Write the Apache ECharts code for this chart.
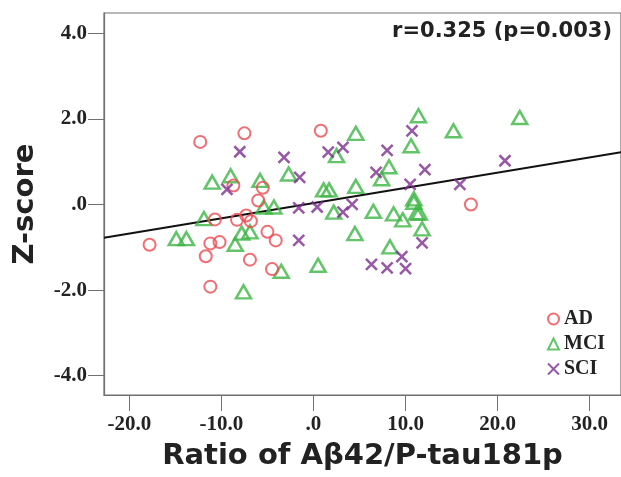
<!DOCTYPE html>
<html><head><meta charset="utf-8">
<script src="https://cdn.jsdelivr.net/npm/echarts@6/dist/echarts.min.js"></script>
<style>html,body{margin:0;padding:0;background:#fff}#c{width:621px;height:477px}</style>
</head><body><div id="c"></div>
<script>
// ---- data ----
const adPoints = [[-12.3,1.46],[-7.5,1.66],[-8.7,0.44],[-5.5,0.39],[-6.0,0.09],[-17.8,-0.94],[-10.7,-0.35],[-11.2,-0.91],[-10.2,-0.88],[-11.7,-1.21],[-11.2,-1.92],[-8.3,-0.36],[-7.3,-0.26],[-6.8,-0.39],[-6.9,-1.29],[-5.0,-0.64],[-4.1,-0.84],[-4.5,-1.51],[0.8,1.72],[17.1,0.0]];
const mciPoints = [[-11.0,0.52],[-9.0,0.67],[-5.8,0.56],[-14.9,-0.8],[-13.8,-0.8],[-11.9,-0.33],[-7.8,-0.67],[-6.9,-0.64],[-8.5,-0.93],[-7.6,-2.04],[-5.4,-0.06],[-4.3,-0.06],[-3.5,-1.56],[2.2,-0.18],[6.5,-0.16],[8.7,-0.22],[9.7,-0.36],[10.9,0.05],[11.2,-0.2],[11.5,-0.2],[11.8,-0.57],[4.5,-0.68],[8.3,-0.99],[0.5,-1.42],[4.6,1.66],[11.4,2.07],[15.2,1.72],[10.6,1.37],[2.5,1.14],[-2.7,0.71],[8.2,0.88],[7.4,0.6],[1.1,0.34],[1.7,0.34],[4.6,0.42],[10.9,0.13],[22.4,2.03]];
const sciPoints = [[-8.0,1.23],[-3.2,1.1],[-9.4,0.35],[-1.6,-0.08],[0.4,-0.06],[3.2,-0.18],[4.2,0.0],[-1.6,-0.84],[11.8,-0.9],[9.6,-1.22],[6.3,-1.40],[8.0,-1.48],[10.0,-1.5],[10.7,1.72],[1.6,1.22],[3.2,1.33],[8.0,1.26],[-1.5,0.63],[6.8,0.75],[12.1,0.81],[10.5,0.47],[20.8,1.02],[15.9,0.47]];
const groupNames = ['AD','MCI','SCI'];
const xTicks = [-20,-10,0,10,20,30];
const yTicks = [-4,-2,0,2,4];
const fitSlope = 0.0356;
const fitIntercept = 0.03;
const statText = 'r=0.325 (p=0.003)';
const xTitle = 'Ratio of Aβ42/P-tau181p';
const yTitle = 'Z-score';

// ---- chart ----
const xMin = -22.75, xMax = 33.4, yMin = -4.45, yMax = 4.47;
const fmt = v => { if (v === 0) return '.0'; return v.toFixed(1); };
const fitLine = [[xMin, fitIntercept + fitSlope * xMin],[xMax, fitIntercept + fitSlope * xMax]];
const tickFont = {fontFamily:'Liberation Serif', fontWeight:'bold', fontSize:21, color:'#222'};
const axisCol = '#707070';
const chart = echarts.init(document.getElementById('c'), null, {renderer:'canvas'});
chart.setOption({
  animation:false,
  backgroundColor:'#fff',
  grid:{left:104, top:13, right:0, bottom:82, show:true, borderColor:axisCol, borderWidth:1.2,
    containLabel:false, outerBoundsMode:'none'},
  xAxis:{type:'value', min:xMin, max:xMax, splitLine:{show:false},
    axisLine:{show:true, onZero:false, lineStyle:{color:axisCol, width:1.2}},
    axisTick:{show:true, length:16, customValues:xTicks, lineStyle:{color:axisCol}},
    axisLabel:{customValues:xTicks, formatter:fmt, margin:19, ...tickFont},
    name:xTitle, nameLocation:'middle', nameGap:47,
    nameTextStyle:{fontFamily:'DejaVu Sans', fontWeight:'bold', fontSize:29, color:'#222'}},
  yAxis:{type:'value', min:yMin, max:yMax, splitLine:{show:false},
    axisLine:{show:true, onZero:false, lineStyle:{color:axisCol, width:1.2}},
    axisTick:{show:true, length:16, customValues:yTicks, lineStyle:{color:axisCol}},
    axisLabel:{customValues:yTicks, formatter:fmt, margin:17, ...tickFont},
    name:yTitle, nameLocation:'middle', nameGap:64, nameRotate:90,
    nameTextStyle:{fontFamily:'DejaVu Sans', fontWeight:'bold', fontSize:29, color:'#222'}},
  legend:{orient:'vertical', left:547, top:309, padding:0, itemWidth:11, itemHeight:11, itemGap:5,
    data:groupNames,
    textStyle:{fontFamily:'Liberation Serif', fontWeight:'bold', fontSize:20, color:'#222'}},
  graphic:[{type:'text', right:9, top:21, style:{text:statText, fontFamily:'DejaVu Sans', fontWeight:'bold', fontSize:21, fill:'#222', textAlign:'right'}}],
  series:[
    {name:'fit', type:'line', data:fitLine, symbol:'none', lineStyle:{color:'#111', width:2}, silent:true, z:1},
    {name:groupNames[0], type:'scatter', data:adPoints, symbol:'circle', symbolSize:12,
      itemStyle:{color:'rgba(255,255,255,0)', borderColor:'#ec4a50', borderWidth:2}, z:3},
    {name:groupNames[1], type:'scatter', data:mciPoints, symbol:'triangle', symbolSize:[15,13],
      itemStyle:{color:'rgba(255,255,255,0)', borderColor:'#3cb543', borderWidth:2.5}, z:2},
    {name:groupNames[2], type:'scatter', data:sciPoints, symbol:'path://M0,0L10,10M10,0L0,10', symbolSize:11,
      itemStyle:{color:'rgba(255,255,255,0)', borderColor:'#7d2e8e', borderWidth:2.5}, z:4}
  ]
});
</script></body></html>
